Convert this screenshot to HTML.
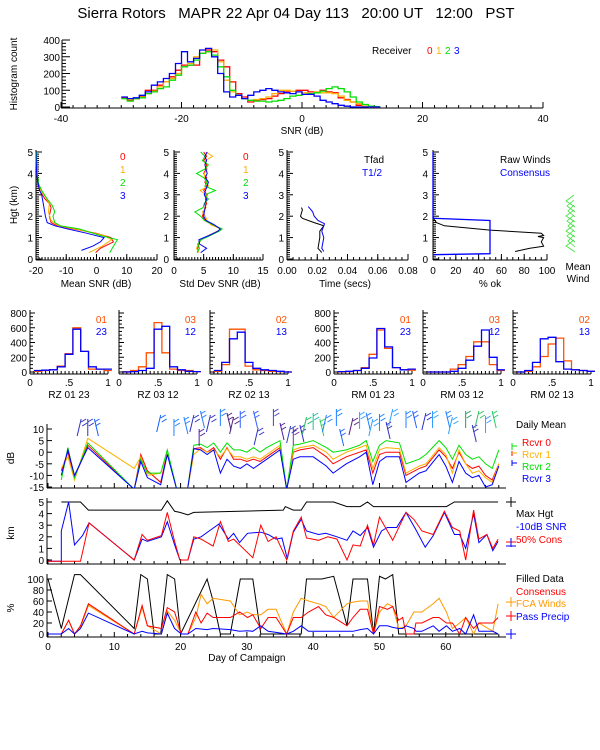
<!DOCTYPE html>
<html><head><meta charset="utf-8"><style>
html,body{margin:0;padding:0;background:#fff;}
svg{display:block;font-family:"Liberation Sans",sans-serif;}
text{font-size:10px;}
</style></head><body>
<svg id="c" width="600" height="750" viewBox="0 0 600 750">
<text x="296" y="18" text-anchor="middle" xml:space="preserve" style="font-size:15px;white-space:pre">Sierra Rotors   MAPR 22 Apr 04 Day 113   20:00 UT   12:00   PST</text>
</svg>
<script>
// ---------- DATA ----------
const histBins = [-30,-29,-28,-27,-26,-25,-24,-23,-22,-21,-20,-19,-18,-17,-16,-15,-14,-13,-12,-11,-10,-9,-8,-7,-6,-5,-4,-3,-2,-1,0,1,2,3,4,5,6,7,8,9,10,11,12];
const histR0 = [55,40,50,65,100,100,130,150,180,220,250,250,250,320,340,330,280,240,150,80,60,30,40,45,50,65,80,90,95,100,100,90,85,100,90,85,55,45,30,10,5,0,0];
const histR1 = [50,45,50,60,80,95,120,150,170,200,240,260,300,320,330,340,270,160,90,70,50,40,45,50,60,80,100,100,95,90,85,80,90,85,85,80,65,40,30,20,5,0,0];
const histR2 = [50,35,50,55,80,90,110,120,160,190,240,250,280,320,330,310,240,180,100,70,50,40,35,35,30,35,40,50,65,70,75,80,85,95,110,120,110,90,60,30,15,5,2];
const histR3 = [60,50,55,70,90,130,150,170,200,260,330,270,290,340,350,300,200,90,60,70,50,70,90,100,110,100,90,85,80,90,75,75,65,40,30,20,10,5,0,0,0,0,0];

const profH0 = [0.3,0.5,0.8,1.0,1.2,1.4,1.55,1.7,2.0,2.4,2.6,2.8,3.2,3.5,4.0,5.0];
const meanR0 = [-0.3,1.3,5.6,4.8,0,-7.5,-13,-15,-15.6,-15,-15.6,-17,-18.8,-19.4,-19.6,-20];
const profH2 = [0.3,0.6,0.9,1.1,1.4,1.55,1.7,2.0,2.2,2.5,2.8,3.2,3.5,4.0,5.0];
const meanR2 = [4.4,5.6,6.9,1.3,-5.6,-12,-13.8,-14.4,-13.8,-14.6,-16.3,-18.1,-19.1,-19.6,-19.8];
const profH1 = [0.3,0.6,0.9,1.1,1.4,1.55,1.8,2.2,2.6,2.9,3.2,3.6,4.0,5.0];
const meanR1 = [-2.5,1.9,5,2.5,-6.9,-12.5,-15,-15.9,-15.6,-16.9,-18.4,-19.4,-19.8,-20];
const profH3 = [0.4,0.6,0.8,1.0,1.2,1.4,1.55,1.7,2.0,2.5,3.0,3.2,3.6,4.0,5.0];
const meanR3 = [-5,-1.3,1.3,2.5,-3.1,-9.4,-13.8,-16.3,-16.9,-17.5,-18.1,-18.8,-19.4,-19.8,-20];

const sdH = [0.3,0.5,0.7,0.9,1.1,1.3,1.4,1.6,1.8,2.0,2.2,2.4,2.6,2.8,3.0,3.2,3.4,3.6,3.8,4.0,4.2,4.4,4.6,4.8,5.0];
const sdR0 = [4,4,4.2,4.5,6,7.5,8,6.5,5.2,4.8,5,5.2,5.5,5.3,5.6,5,5.5,5.2,5.5,5,5.4,5.5,5,5.5,5];
const sdR1 = [4.2,3.8,4.1,4.4,5.8,7.3,7.9,6.2,5.6,5.3,4.8,5.4,5.2,5.6,5.4,4.4,5.8,5.4,5.2,5.1,5.6,5.2,5.3,6.5,5.4];
const sdR2 = [3.9,4.3,4,4.6,6.1,7.6,8.1,6.6,5.1,4.5,3.5,4.9,5.1,5.8,5.2,7,5.2,5.6,5,3.8,5.2,5.8,4.8,5.2,4.5];
const sdR3 = [4.5,5.5,4.3,4.2,5.9,7.4,7.8,6.8,5.4,5,5.1,5.3,5.2,5.5,5.1,5.3,5.6,5.8,5.3,5.6,5.4,5.2,5.5,5.2,5.6];

const tfadH = [0.3,0.5,1.0,1.3,1.55,1.7,1.9,2.0,2.3,2.4];
const tfadV = [0.023,0.0205,0.0217,0.0217,0.0243,0.018,0.0102,0.0089,0.0102,0.0095];
const thalfH = [0.35,0.5,1.0,1.3,1.65,1.8,2.0,2.2,2.35,2.45];
const thalfV = [0.0243,0.023,0.0243,0.023,0.0248,0.0205,0.018,0.017,0.0153,0.014];

const okH = [0.35,0.5,0.6,0.8,1.0,1.05,1.1,1.2,1.35,1.55,1.7,1.85,2.0,5.0];
const okRaw = [72,85,97,95,97,92,97,95,50,10,3,1,0,0];
const consH = [0.2,0.25,0.3,1.75,1.8,1.9,5.0];
const consV = [0,50,50,50,50,0,0];

const effNames = ['RZ  01 23','RZ  03 12','RZ  02 13','RM  01 23','RM  03 12','RM  02 13'];
const effLeg1 = ['01','03','02','01','03','02'];
const effLeg2 = ['23','12','13','23','12','13'];
const effA = [[10,20,30,80,250,600,280,40,40,20],[5,20,70,260,670,260,40,20,20,5],[10,100,580,580,80,30,20,10,5,0],[0,5,20,60,240,570,320,60,30,25],[0,0,0,40,100,210,410,410,100,20],[0,10,70,210,380,460,150,30,20,10]];
const effB = [[20,25,30,70,240,580,280,70,40,40],[0,5,20,50,580,620,70,30,10,5],[20,130,450,540,130,50,30,20,10,0],[5,10,20,50,190,590,340,60,30,40],[0,0,0,10,50,160,350,570,200,30],[0,20,130,450,470,140,40,30,20,10]];

const dayDB = [2,3,4,6,13,14,15,17,18,19.5,21,22,23,24,25,26,27,28,29,30,31,32,33,35,36,37,38,40,42,43,45,47,48,49,50,51,53,54,56,57,59,60,61,62,63,64,65,66,67,68];
const dbR0 = [-8,0,-11,3,-16,-1,-8,-13,0,-17,-17,1.5,2,0,2,-3,2,-3,-3,-4,-3,-4,-2,2,-16,0,1,2,-2,-5,-2,0,1,-9,-1,0,0,-10,-7,-6,1,-2,-7,0,-5,-7,-6,-10,-12,-5];
const dbR1 = [-7,-2,-12,6,-7,-2,-10,-9,0,-17,-17,-1,1.5,0,1,-2,1.5,-2,-2,-3,-2,-3,-1,3,-16,1,2,3,0,-3,0,2,3,-7,1,2,1.5,-9,-6,-5,2,-1,-9,1,-5,-9,-8,-11,-13,-5];
const dbR2 = [-12,2,-11,4,-16,-3,-9,-9,1,-17,-17,3,3.5,2,4,0,4,1,1,0,2,0,2,5,-16,3,3.5,5,2,0,1,3,5,-4,3,5,4,-5,-3,-1,5,2,-3,3,-1,-3,-2,-5,-7,1];
const dbR3 = [-10,1,-10,2,-16,-4,-11,-14,-1,-17,-17,1.5,1,-1,1,-9,-3,-6,-7,-5,-7,-5,-3,1,-16,-3,-2,-2,-6,-9,-5,-2,0,-14,-4,-2,-2,-13,-9,-8,-1,-6,-13,-4,-9,-11,-10,-15,-14,-6];

const dayMax = [2,4.9,6.1,17.1,18,19.1,19.9,21.1,22,35.5,35.8,37,38.2,39,43.1,45.1,47.1,48.2,49.1,60.1,61.3,67.9];
const maxHgt = [5,5,4.3,4.3,5.1,4.2,4.1,3.9,4.1,4.3,4.6,4.3,4.3,5,5,4.6,4.6,5,4.6,4.6,5,5];
const daySnr = [0,2,2,3.1,4,5.2,6.2,13,14.2,15,17.1,18,19.1,19.9,21.1,22,23.1,24.3,25.8,27.2,28,28.9,30.1,32.1,33.2,34.4,35.3,36.1,37,38.2,39,40.8,41.9,43.6,45.1,46,47.1,48.2,49.1,50.3,51.2,52.6,54,55.5,56.9,58.1,59.8,61.3,62.1,63,64.2,65,66.2,67.1,67.9];
const snrHgt = [-0.1,-0.1,2.5,5,1.3,2.1,3.2,0,1.8,1.6,2,3.3,1.3,0,0,1.8,2,2.5,3.1,1.8,2.3,1.5,2.3,2.4,2.2,1.8,1.9,0.1,2.4,3.5,2.5,2.2,2.3,2,1.7,2.5,2.1,2.8,1.1,2.5,2.8,2.8,4.1,2.6,1.1,2.1,4.1,2.2,2.2,1,4,1.5,2.2,0.8,1.6];
const dayCons = [0,4.9,6.2,13,14.2,15,17.1,18,19.1,19.9,21.1,22,23.1,24.9,26,27.2,28,30.9,32.1,33.2,34.4,36,37,38.2,39,40.8,42.2,43.6,45.1,46,47.1,48.2,49.1,50,52,54,55.2,56.4,58.1,59.8,61,62.1,63,64.2,65,66.2,67.1,67.9];
const consHgt = [-0.1,-0.1,3.2,0,2.2,1.7,2.1,4.1,1.6,0,0,2,1.8,1.2,3.3,1.6,1.8,0.2,3,1.6,2,0,2.5,3.7,1.9,1.7,2,1.8,0,1.3,1.2,3,1.3,3.7,1.7,4.1,3.5,2.5,2.2,4.2,2.8,2.5,0,4.3,1.8,2.2,1,1.8];

const dayFill = [0,2,4,4.9,13,14,15,16,17,18,19.1,20,24,24.9,26,27.5,29,30.9,32.1,38.2,39,41.3,43.1,45.1,46,48.2,49.1,50,50.9,52,52.9,67.9];
const fillPct = [100,10,108,108,10,108,100,0,0,108,100,0,100,60,0,0,100,100,0,0,100,100,105,15,100,100,0,105,100,108,0,0];
const dayPct = [0,2,3.1,4,4.9,6.1,13,14.2,15,17.1,18,19.1,20.1,21.1,22.3,23.1,24,24.9,27.5,28.9,30.1,30.9,32.1,33.2,34.4,36,37,38.2,39.3,40.8,41.9,43.1,45.1,46,47.1,48.2,49.1,50,51.2,52,52.9,53.5,54,55.2,55.5,56.4,58.1,59,60.1,61,62.1,63,64.2,65,67.1,67.9];
const consPct = [0,0,25,0,15,55,0,52,15,10,48,40,0,0,40,20,38,30,30,40,30,35,10,30,30,0,30,30,40,50,35,30,15,30,45,45,0,50,45,50,25,30,0,0,20,20,30,30,20,20,0,30,10,20,20,30];
const fcaPct = [0,0,25,0,12,52,0,48,15,0,42,25,0,0,30,72,55,65,60,35,40,35,35,45,45,0,40,65,60,55,50,30,55,58,60,60,0,40,55,50,10,12,15,40,40,40,55,65,40,10,20,30,0,20,5,55];
const precPct = [0,0,10,0,10,38,0,5,2,0,38,10,0,0,10,9,8,10,8,5,6,5,15,5,3,0,5,15,5,5,5,5,5,5,8,10,0,15,15,12,10,10,15,10,5,5,15,5,15,5,10,0,35,5,5,0];

const barbDay = [5,6,7,17,19,20.5,22,22.8,23,24.5,26,27,28,29,31,31.7,34,35,36.6,37,38,39,40,41,42,43.5,44,46,47,48,49,50,51,52,54,55,57,58,60,61,63,64,65,66,67];
const barbY = [421,421,421,417,421,419,417,431,413,417,411,415,419,413,413,430,411,425,428,430,427,419,415,421,417,411,431,420,414,415,421,416,424,411,413,413,415,413,413,419,413,427,413,418,413];
const barbColor = ['#3030c0','#3030c0','#1060ff','#1060ff','#2080ff','#2080ff','#3030c0','#5020a0','#2080ff','#3030c0','#2080ff','#502080','#502080','#3060ff','#3060ff','#3030c0','#4040c0','#5020a0','#3040c0','#7030a0','#3030c0','#20c060','#20c0a0','#30d060','#2080ff','#2080ff','#2060ff','#502080','#30a0ff','#2080ff','#30a0ff','#2080ff','#3030c0','#30a0ff','#2080ff','#2060ff','#3030c0','#30a0ff','#2080ff','#30a0ff','#20a060','#3030c0','#30c060','#30a0ff','#20d060'];

// ---------- HELPERS ----------
const svg = document.getElementById('c');
const NS = 'http://www.w3.org/2000/svg';
function lin(d0,d1,r0,r1){return v=>r0+(v-d0)*(r1-r0)/(d1-d0);}
function el(tag,attrs,parent){const e=document.createElementNS(NS,tag);for(const k in attrs)e.setAttribute(k,attrs[k]);(parent||svg).appendChild(e);return e;}
function grp(name){const g=el('g',{});return g;}
function line(g,x1,y1,x2,y2,c,w){return el('line',{x1,y1,x2,y2,stroke:c||'#000','stroke-width':w||1},g);}
function txt(g,x,y,s,opt){opt=opt||{};const t=el('text',{x,y,'text-anchor':opt.a||'start',fill:opt.c||'#000'},g);if(opt.size)t.style.fontSize=opt.size+'px';if(opt.rot)t.setAttribute('transform','rotate(-90 '+x+' '+y+')');t.textContent=s;return t;}
function poly(g,pts,c,w,clip){const p=el('polyline',{points:pts.map(p=>p[0].toFixed(1)+','+p[1].toFixed(1)).join(' '),fill:'none',stroke:c,'stroke-width':w||1},g);if(clip)p.setAttribute('clip-path','url(#'+clip+')');return p;}
function steps(xs,ys,fx,fy,w){const pts=[];for(let i=0;i<xs.length;i++){const x0=fx(xs[i]),x1=fx(xs[i]+w);pts.push([x0,fy(ys[i])],[x1,fy(ys[i])]);}return pts;}
function clipRect(id,x,y,w,h){const defs=el('defs',{});const cp=el('clipPath',{id},defs);el('rect',{x,y,width:w,height:h},cp);}

// ---------- PANEL 1: SNR histogram ----------
(function(){
  const g=grp('snr-histogram-panel');
  const fx=lin(-40,40,61,543), fy=lin(0,400,107,40);
  line(g,61,108,543,108); line(g,62,40,62,108);
  for(let v=-40;v<=40;v+=2){line(g,fx(v),108,fx(v),v%20===0?102:105);}
  [-40,-20,0,20,40].forEach(v=>txt(g,fx(v),122,String(v),{a:'middle'}));
  for(let v=0;v<=400;v+=20){line(g,62,fy(v),v%100===0?70:66,fy(v));}
  [0,100,200,300,400].forEach(v=>txt(g,60,fy(v)+4,String(v),{a:'end'}));
  txt(g,302,134,'SNR (dB)',{a:'middle'});
  txt(g,17,74,'Histogram count',{a:'middle',rot:true});
  const cols=['#ff0000','#ffb000','#00e000','#0000ff'];
  [histR0,histR1,histR2,histR3].forEach((s,i)=>{const p=poly(g,steps(histBins,s,fx,fy,1),cols[i],1.3);});
  txt(g,372,54,'Receiver');
  ['0','1','2','3'].forEach((s,i)=>txt(g,427+i*9,54,s,{c:cols[i]}));
})();

// ---------- ROW 2 PROFILES ----------
function profAxes(g,x0,x1,ticks,labels,minor,ylabX){
  const fy=lin(0,5,259,152);
  line(g,x0,260,x1,260); line(g,x0,150,x0,260);
  minor.forEach(v=>line(g,v,260,v,257));
  ticks.forEach((v,i)=>{line(g,v,260,v,254);txt(g,v,274,labels[i],{a:'middle'});});
  for(let k=0;k<=50;k++){const y=fy(k/10);line(g,x0,y,x0+(k%10===0?6:3),y);}
  for(let k=0;k<=5;k++)txt(g,ylabX,fy(k)+4,String(k),{a:'end'});
  return fy;
}
(function(){
  const g=grp('mean-snr-profile-panel');
  const fx=lin(-20,20,36,157);
  const minor=[];for(let v=-20;v<=20;v+=1)minor.push(fx(v));
  const fy=profAxes(g,36,157,[-20,-10,0,10,20].map(fx),['-20','-10','0','10','20'],minor,33);
  txt(g,96,287,'Mean SNR (dB)',{a:'middle'});
  txt(g,17,205,'Hgt (km)',{a:'middle',rot:true});
  const cols=['#ff0000','#ffb000','#00e000','#0000ff'];
  const H=[profH0,profH1,profH2,profH3], V=[meanR0,meanR1,meanR2,meanR3];
  for(let i=0;i<4;i++){const p=poly(g,H[i].map((h,k)=>[fx(V[i][k]),fy(h)]),cols[i],1);}
  ['0','1','2','3'].forEach((s,i)=>txt(g,120,160+i*13,s,{c:cols[i]}));
})();
(function(){
  const g=grp('stddev-snr-profile-panel');
  const fx=lin(0,15,174,263);
  const minor=[];for(let v=0;v<=15;v+=0.5)minor.push(fx(v));
  const fy=profAxes(g,174,263,[0,5,10,15].map(fx),['0','5','10','15'],minor,169);
  txt(g,220,287,'Std Dev SNR (dB)',{a:'middle'});
  const cols=['#ff0000','#ffb000','#00e000','#0000ff'];
  [sdR0,sdR1,sdR2,sdR3].forEach((s,i)=>{const p=poly(g,sdH.map((h,k)=>[fx(s[k]),fy(h)]),cols[i],1);});
  ['0','1','2','3'].forEach((s,i)=>txt(g,243,160+i*13,s,{c:cols[i]}));
})();
(function(){
  const g=grp('fading-time-profile-panel');
  const fx=lin(0,0.08,287,408);
  const minor=[];for(let v=0;v<=80;v+=4)minor.push(fx(v/1000));
  const fy=profAxes(g,287,408,[0,0.02,0.04,0.06,0.08].map(fx),['0.00','0.02','0.04','0.06','0.08'],minor,284);
  txt(g,345,287,'Time (secs)',{a:'middle'});
  const a=poly(g,tfadH.map((h,k)=>[fx(tfadV[k]),fy(h)]),'#000',1);
  const b=poly(g,thalfH.map((h,k)=>[fx(thalfV[k]),fy(h)]),'#0000ff',1);
  txt(g,364,163,'Tfad'); txt(g,362,176,'T1/2',{c:'#0000ff'});
})();
(function(){
  const g=grp('percent-ok-profile-panel');
  const fx=lin(0,100,433,547);
  const minor=[];for(let v=0;v<=100;v+=5)minor.push(fx(v));
  const fy=profAxes(g,433,547,[0,20,40,60,80,100].map(fx),['0','20','40','60','80','100'],minor,428);
  txt(g,490,287,'% ok',{a:'middle'});
  const a=poly(g,okH.map((h,k)=>[fx(okRaw[k]),fy(h)]),'#000',1);
  const b=poly(g,consH.map((h,k)=>[fx(consV[k]),fy(h)]),'#0000ff',1.3);
  txt(g,500,163,'Raw Winds'); txt(g,500,176,'Consensus',{c:'#0000ff'});
  const mw=grp('mean-wind-glyph');
  for(let k=0;k<10;k++){const y=195+k*5;poly(mw,[[574,y],[566+k%3,y+6],[575,y+12]],'#40e040',0.8);}
  txt(mw,578,270,'Mean',{a:'middle'}); txt(mw,578,282,'Wind',{a:'middle'});
})();

// ---------- ROW 3 EFFICIENCY HISTOGRAMS ----------
const effX0=[30,119,210,334,423,513];
effNames.forEach((nm,i)=>{
  const g=grp('correlation-histogram-'+(i+1));
  const x0=effX0[i], x1=x0+78;
  const fx=lin(0,1,x0,x1), fy=lin(0,800,372,313);
  line(g,x0,374,x1,374); line(g,x0,310,x0,374);
  for(let v=0;v<=800;v+=50)line(g,x0,fy(v),x0+(v%200===0?5:3),fy(v));
  for(let v=0;v<=1.001;v+=0.05)line(g,fx(v),374,fx(v),371);
  if(i===0||i===3)[0,200,400,600,800].forEach(v=>txt(g,x0-3,fy(v)+4,String(v),{a:'end'}));
  txt(g,fx(0),386,'0',{a:'middle'});txt(g,fx(0.5),386,'.5',{a:'middle'});txt(g,fx(1),386,'1',{a:'middle'});
  txt(g,fx(0.5),398,nm,{a:'middle'});
  const bins=[0.05,0.15,0.25,0.35,0.45,0.55,0.65,0.75,0.85,0.95];
  const pa=poly(g,steps(bins,effA[i],fx,fy,0.1),'#ff5000',1.3);
  const pb=poly(g,steps(bins,effB[i],fx,fy,0.1),'#0000ff',1.3);
  txt(g,x1-1,323,effLeg1[i],{a:'end',c:'#ff5000'});txt(g,x1-1,335,effLeg2[i],{a:'end',c:'#0000ff'});
});

// ---------- TIME SERIES ----------
const fday=lin(0,68,48,498.8);
function tAxes(g,yb,yt){line(g,47,yb,506,yb);line(g,47,yt,47,yb);for(let d=0;d<=68;d+=2)line(g,fday(d),yb,fday(d),yb-(d%10===0?5:3));}
clipRect('clipdb',40,424,470,64);
(function(){
  const g=grp('daily-mean-snr-panel');
  const fy=lin(-15,10,487,429);
  tAxes(g,488,424);
  [10,5,0,-5,-10,-15].forEach(v=>{line(g,47,fy(v),52,fy(v));txt(g,44,fy(v)+4,String(v),{a:'end'});});
  txt(g,14,458,'dB',{a:'middle',rot:true});
  const cols=['#ff0000','#ffb000','#00e000','#0000ff'];
  [dbR0,dbR1,dbR2,dbR3].forEach((s,i)=>{const p=poly(g,dayDB.map((d,k)=>[fday(d),fy(s[k])]),cols[i],1,'clipdb');});
  txt(g,516,428,'Daily Mean');
  ['Rcvr 0','Rcvr 1','Rcvr 2','Rcvr 3'].forEach((s,i)=>txt(g,522,446+i*12,s,{c:cols[i]}));
  line(g,512,443,512,450,cols[2]);line(g,512,446,517,446,cols[2]);
  line(g,512,451,512,456,cols[0]);line(g,512,453,517,453,cols[1]);
  line(g,512,460,512,466,cols[3]);line(g,512,463,517,463,cols[3]);
  const b=grp('wind-barbs');
  barbDay.forEach((d,k)=>{const x=fday(d),y=barbY[k]-2;line(b,x,y,x+((k%3)-1)*4,y+17,barbColor[k]);line(b,x,y+3,x+5,y,barbColor[k]);line(b,x+1,y+7,x+6,y+4,barbColor[k]);});
})();
(function(){
  const g=grp('height-panel');
  const fy=lin(0,5,560,502);
  tAxes(g,564,498);
  [0,1,2,3,4,5].forEach(v=>{line(g,47,fy(v),52,fy(v));txt(g,44,fy(v)+4,String(v),{a:'end'});});
  txt(g,14,533,'km',{a:'middle',rot:true});
  const a=poly(g,dayMax.map((d,k)=>[fday(d),fy(maxHgt[k])]),'#000',1);
  const b=poly(g,daySnr.map((d,k)=>[fday(d),fy(snrHgt[k])]),'#0000ff',1);
  const c=poly(g,dayCons.map((d,k)=>[fday(d),fy(consHgt[k])]),'#ff0000',1);
  txt(g,516,517,'Max Hgt'); txt(g,516,530,'-10dB SNR',{c:'#0000ff'}); txt(g,516,543,'50% Cons',{c:'#ff0000'});
  line(g,506,502,516,502);line(g,511,497,511,507);
  line(g,506,542,516,542,'#ff0000');line(g,511,538,511,547,'#0000ff');line(g,506,546,516,546,'#0000ff');
})();
(function(){
  const g=grp('percent-panel');
  const fy=lin(0,100,634,579);
  tAxes(g,637,574);
  [0,20,40,60,80,100].forEach(v=>{line(g,47,fy(v),52,fy(v));txt(g,44,fy(v)+4,String(v),{a:'end'});});
  txt(g,14,608,'%',{a:'middle',rot:true});
  [0,10,20,30,40,50,60].forEach(d=>txt(g,fday(d),650,String(d),{a:'middle'}));
  txt(g,fday(30),661,'Day of Campaign',{a:'middle'});
  const series=[[dayFill,fillPct,'#000','filled-data-line'],[dayPct,fcaPct,'#ff9900','fca-winds-line'],[dayPct,consPct,'#ff0000','consensus-pct-line'],[dayPct,precPct,'#0000ff','pass-precip-line']];
  series.forEach(s=>{const p=poly(g,s[0].map((d,k)=>[fday(d),fy(s[1][k])]),s[2],1);});
  txt(g,516,582,'Filled Data'); txt(g,516,595,'Consensus',{c:'#ff0000'}); txt(g,516,607,'FCA Winds',{c:'#ff9900'}); txt(g,516,620,'Pass Precip',{c:'#0000ff'});
  line(g,506,602,516,602,'#ff9900');line(g,511,597,511,607,'#ff9900');
  line(g,506,616,516,616,'#ff0000');line(g,511,611,511,621,'#ff0000');
  line(g,506,634,516,634,'#0000ff');line(g,511,629,511,639,'#0000ff');
})();
</script>
</body></html>
